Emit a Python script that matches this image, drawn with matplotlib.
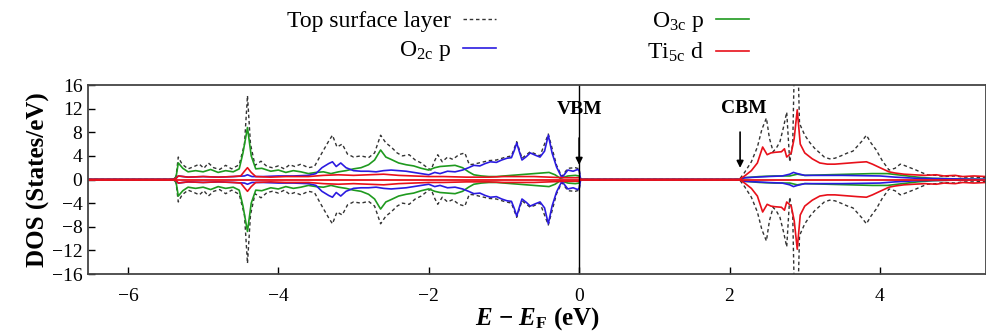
import numpy as np
import matplotlib
matplotlib.use("Agg")
import matplotlib.pyplot as plt

# Font setup (Times-like serif, as in the gnuplot original)
plt.rcParams['font.family'] = 'Liberation Serif'
plt.rcParams['mathtext.fontset'] = 'custom'
plt.rcParams['mathtext.rm'] = 'Liberation Serif'
plt.rcParams['mathtext.it'] = 'Liberation Serif:italic'
plt.rcParams['mathtext.bf'] = 'Liberation Serif:bold'
plt.rcParams['mathtext.bfit'] = 'Liberation Serif:italic:bold'

# Top surface layer (total), spin up mirrored for spin down
e_total = [-6.53, -5.40, -5.36, -5.33, -5.28, -5.20, -5.12, -5.05, -4.99, -4.93,
           -4.86, -4.78, -4.70, -4.62, -4.52, -4.45, -4.41, -4.37, -4.31, -4.23,
           -4.15, -4.08, -4.00, -3.92, -3.85, -3.78, -3.70, -3.60, -3.52, -3.42,
           -3.33, -3.28, -3.22, -3.15, -3.08, -3.00, -2.90, -2.80, -2.72, -2.64,
           -2.57, -2.50, -2.42, -2.35, -2.26, -2.18, -2.10, -2.02, -1.97, -1.92,
           -1.88, -1.82, -1.75, -1.68, -1.60, -1.52, -1.46, -1.40, -1.30, -1.20,
           -1.10, -1.00, -0.90, -0.83, -0.76, -0.65, -0.52, -0.41, -0.30, -0.23,
           -0.15, -0.05, 0.00, 0.02, 2.13, 2.20, 2.29, 2.37, 2.43, 2.49,
           2.53, 2.58, 2.63, 2.67, 2.72, 2.76, 2.80, 2.84, 2.87, 2.90,
           2.93, 3.00, 3.07, 3.13, 3.20, 3.26, 3.33, 3.40, 3.48, 3.57,
           3.64, 3.69, 3.76, 3.82, 3.88, 3.95, 4.03, 4.12, 4.20, 4.27,
           4.32, 4.40, 4.48, 4.55, 4.63, 4.75, 4.85, 5.00, 5.10, 5.25, 5.41]
dos_total = [0, 0, 0.5, 3.8, 2.6, 1.8, 2.2, 2.6, 1.9, 2.8,
             2.0, 1.7, 2.4, 1.8, 2.5, 6.0, 14.2, 6.0, 2.4, 3.1,
             2.2, 2.0, 2.3, 1.8, 2.5, 2.2, 2.6, 2.0, 2.2, 4.5,
             6.5, 7.5, 5.5, 6.0, 4.3, 3.8, 4.0, 3.7, 4.5, 7.5,
             6.2, 5.5, 4.5, 4.0, 4.2, 3.3, 2.8, 2.0, 1.6, 3.2,
             4.2, 3.0, 3.8, 3.4, 4.2, 4.5, 2.5, 2.6, 2.9, 3.2,
             3.3, 3.7, 4.0, 6.4, 3.6, 4.7, 4.0, 7.7, 2.4, 0.5,
             1.9, 2.0, 1.8, 0, 0, 1.2, 3.0, 5.5, 8.5, 10.4,
             7.0, 4.7, 5.5, 6.4, 9.0, 11.4, 3.0, 6.0, 25.0, 25.0,
             9.5, 7.5, 6.2, 5.3, 4.5, 3.8, 3.5, 3.6, 4.0, 4.5,
             4.8, 5.5, 6.5, 7.5, 6.2, 5.0, 3.2, 1.6, 1.9, 2.6,
             2.4, 2.0, 1.6, 1.2, 0.8, 0.7, 0.5, 0.6, 0.4, 0.4, 0.3]

# O3c p
e_o3c = [-6.53, -5.40, -5.36, -5.33, -5.27, -5.20, -5.10, -5.00, -4.90, -4.80,
         -4.70, -4.60, -4.52, -4.47, -4.41, -4.36, -4.30, -4.22, -4.10, -4.00,
         -3.90, -3.80, -3.70, -3.60, -3.50, -3.40, -3.30, -3.20, -3.10, -3.00,
         -2.90, -2.80, -2.72, -2.64, -2.57, -2.50, -2.40, -2.30, -2.20, -2.10,
         -2.00, -1.92, -1.85, -1.75, -1.65, -1.55, -1.47, -1.40, -1.30, -1.20,
         -1.10, -1.00, -0.90, -0.80, -0.70, -0.60, -0.50, -0.40, -0.32, -0.25,
         -0.15, -0.05, 0.00, 0.02, 2.13, 2.20, 2.40, 2.60, 2.80, 2.90,
         3.00, 3.30, 3.60, 3.90, 4.10, 4.30, 4.50, 4.70, 5.00, 5.41]
dos_o3c = [0, 0, 0.4, 2.8, 1.9, 1.3, 1.5, 1.3, 1.7, 1.2,
           1.5, 1.3, 1.8, 4.5, 8.8, 4.0, 1.8, 1.9, 1.4, 1.6,
           1.2, 1.5, 1.3, 1.0, 1.2, 1.3, 1.0, 1.3, 1.5, 1.8,
           2.0, 2.5, 3.3, 5.0, 3.8, 3.4, 2.8, 2.5, 2.3, 1.9,
           1.6, 2.0, 2.2, 2.3, 2.4, 2.0, 1.3, 0.8, 0.6, 0.5,
           0.5, 0.6, 0.7, 0.8, 0.9, 1.0, 1.1, 1.2, 0.8, 0.2,
           0.6, 0.7, 0.6, 0, 0, 0.3, 0.5, 0.6, 0.6, 0.9,
           0.7, 0.8, 0.9, 1.0, 1.0, 0.7, 0.4, 0.2, 0.1, 0]

# O2c p
e_o2c = [-6.53, -5.40, -5.36, -5.33, -5.20, -5.00, -4.80, -4.60, -4.45, -4.41,
         -4.35, -4.20, -4.00, -3.80, -3.60, -3.50, -3.42, -3.33, -3.28, -3.23,
         -3.17, -3.10, -3.00, -2.90, -2.80, -2.70, -2.60, -2.50, -2.40, -2.30,
         -2.20, -2.10, -2.00, -1.92, -1.85, -1.75, -1.65, -1.55, -1.47, -1.40,
         -1.32, -1.25, -1.18, -1.10, -1.03, -0.96, -0.90, -0.86, -0.83, -0.79,
         -0.76, -0.70, -0.65, -0.58, -0.52, -0.46, -0.41, -0.36, -0.30, -0.23,
         -0.15, -0.08, -0.02, 0.00, 0.02, 2.13, 2.20, 2.50, 2.70, 2.80,
         2.85, 2.90, 3.00, 3.50, 4.00, 4.20, 4.50, 5.00, 5.41]
dos_o2c = [0, 0, 0.2, 0.6, 0.4, 0.5, 0.4, 0.5, 0.6, 0.8,
           0.5, 0.5, 0.6, 0.6, 0.7, 1.0, 2.0, 2.7, 3.0, 2.2,
           2.8, 2.0, 1.5, 1.4, 1.4, 1.3, 1.5, 1.6, 1.5, 1.4,
           1.2, 1.0, 0.8, 1.2, 1.0, 1.4, 1.3, 1.6, 2.0, 2.4,
           2.3, 2.7, 3.0, 2.9, 3.3, 3.6, 3.7, 5.0, 6.2, 4.5,
           3.3, 3.9, 4.5, 4.1, 3.8, 4.8, 7.5, 4.5, 2.1, 0.3,
           1.6, 1.4, 1.7, 1.5, 0, 0, 0.3, 0.5, 0.6, 0.9,
           1.2, 1.0, 0.7, 0.7, 0.6, 0.4, 0.2, 0.1, 0]

# Ti5c d
e_ti5c = [-6.53, -5.40, -5.36, -5.33, -5.20, -5.00, -4.80, -4.60, -4.50, -4.45,
          -4.41, -4.36, -4.30, -4.10, -3.90, -3.60, -3.40, -3.20, -3.00, -2.80,
          -2.60, -2.40, -2.20, -2.00, -1.80, -1.50, -1.20, -1.00, -0.80, -0.60,
          -0.40, -0.20, 0.00, 0.02, 2.13, 2.20, 2.29, 2.37, 2.44, 2.50,
          2.55, 2.60, 2.69, 2.73, 2.76, 2.82, 2.86, 2.90, 2.94, 3.00,
          3.10, 3.20, 3.30, 3.40, 3.50, 3.60, 3.70, 3.82, 3.90, 4.00,
          4.12, 4.20, 4.32, 4.45, 4.60, 4.75, 4.85, 5.00, 5.10, 5.25, 5.41]
dos_ti5c = [0, 0, 0.2, 0.6, 0.4, 0.5, 0.4, 0.5, 0.6, 1.4,
            2.0, 1.2, 0.5, 0.4, 0.5, 0.5, 0.7, 0.8, 0.7, 0.8,
            0.9, 0.7, 0.6, 0.5, 0.5, 0.4, 0.4, 0.5, 0.5, 0.5,
            0.4, 0.3, 0.3, 0, 0, 0.6, 1.5, 2.8, 5.5, 4.2,
            4.5, 4.6, 4.7, 5.2, 3.8, 4.5, 7.0, 11.8, 6.0, 4.5,
            3.5, 2.8, 2.6, 2.6, 2.7, 2.8, 2.9, 3.0, 2.6, 2.0,
            1.3, 1.1, 0.9, 0.8, 0.7, 0.8, 0.6, 0.7, 0.5, 0.6, 0.5]

vbm = 0.0
cbm = 2.14

fig = plt.figure(figsize=(9.87, 3.34), dpi=100)
ax = fig.add_axes([0.0892, 0.1796, 0.9098, 0.5659])

c_green = '#1f9a1f'
c_blue = '#2b1be0'
c_red = '#e8101a'
lw = 1.2

for sign in (1, -1):
    ax.plot(e_total, sign * np.array(dos_total), color='#333333', lw=1.0,
            dashes=(2.5, 2), label='Top surface layer' if sign > 0 else None)
for sign in (1, -1):
    ax.plot(e_o3c, sign * np.array(dos_o3c), color=c_green, lw=lw,
            label=r'O$_{\rm 3c}$ p' if sign > 0 else None)
for sign in (1, -1):
    ax.plot(e_o2c, sign * np.array(dos_o2c), color=c_blue, lw=lw,
            label=r'O$_{\rm 2c}$ p' if sign > 0 else None)
for sign in (1, -1):
    ax.plot(e_ti5c, sign * np.array(dos_ti5c), color=c_red, lw=lw,
            label=r'Ti$_{\rm 5c}$ d' if sign > 0 else None)
ax.axhline(0, color=c_red, lw=1.3)
ax.axvline(vbm, color='black', lw=1.0)

# VBM / CBM markers
ax.annotate('', xy=(vbm, 2.0), xytext=(vbm, 7.5),
            arrowprops=dict(arrowstyle='-|>', color='black', lw=1.2, mutation_scale=10))
ax.text(vbm, 11.8, 'VBM', ha='center', va='center', fontsize=14, fontweight='bold')
ax.annotate('', xy=(cbm, 1.5), xytext=(cbm, 8.5),
            arrowprops=dict(arrowstyle='-|>', color='black', lw=1.2, mutation_scale=10))
ax.text(cbm + 0.05, 12.0, 'CBM', ha='center', va='center', fontsize=14, fontweight='bold')

ax.set_xlim(-6.53, 5.41)
ax.set_ylim(-16, 16)
ax.set_xticks([-6, -4, -2, 0, 2, 4])
ax.set_xticklabels(['\u22126', '\u22124', '\u22122', '0', '2', '4'])
ax.set_yticks(np.arange(-16, 17, 4))
ax.set_yticklabels([str(v).replace('-', '\u2212') for v in range(-16, 17, 4)])
ax.tick_params(direction='in', labelsize=14, length=5, width=1.0)
ax.tick_params(axis='x', pad=10)
ax.tick_params(axis='y', pad=4)
for s in ax.spines.values():
    s.set_linewidth(1.3)
    s.set_color('#444444')

ax.set_ylabel('DOS (States/eV)', fontsize=18, fontweight='bold', labelpad=1)
ax.set_xlabel(r'$\mathbfit{E}$ $\mathbf{-}$ $\mathbfit{E}_{\mathbf{F}}$ (eV)',
              fontsize=18, fontweight='bold', labelpad=0)

# legend: two columns above the plot, label before line
h, l = ax.get_legend_handles_labels()
order = [0, 2, 1, 3]
fig.legend([h[i] for i in order], [l[i] for i in order], ncol=2,
           loc='upper right', bbox_to_anchor=(749 / 987, 1 - 10 / 334),
           frameon=False, markerfirst=False, fontsize=17, handlelength=1.4,
           handletextpad=0.5, columnspacing=6.4, labelspacing=0.3,
           borderpad=0, borderaxespad=0)

fig.savefig('out.png', dpi=100)
